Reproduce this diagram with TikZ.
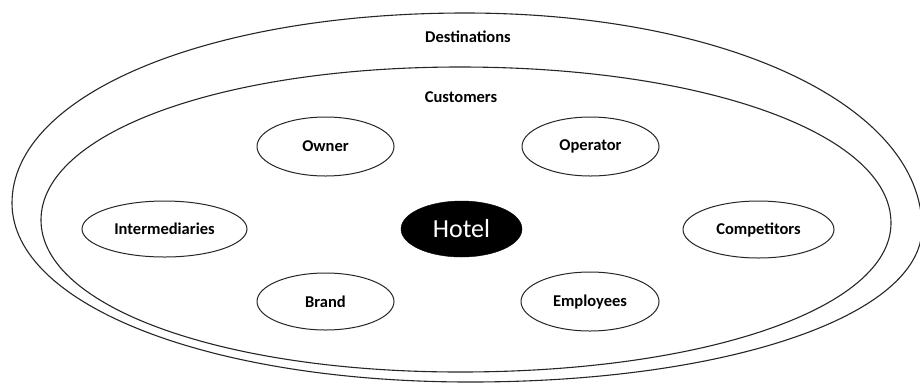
\documentclass[tikz,border=0pt]{standalone}
\usepackage{fontspec}
\setmainfont{Carlito}
\usetikzlibrary{shapes.geometric}
\begin{document}
\begin{tikzpicture}[x=1pt,y=-1pt,
  ring/.style={draw=black!85,line width=1.1pt},
  actor/.style={ellipse,draw=black!85,line width=1pt,inner sep=0pt,fill=white,
    font=\fontsize{16.5}{18}\selectfont\bfseries},
  layerlabel/.style={font=\fontsize{16.5}{18}\selectfont\bfseries,inner sep=0pt},
  core/.style={ellipse,fill=black,draw=black,inner sep=0pt,text=white,
    font=\fontsize{26}{28}\selectfont}]
\useasboundingbox (0,0) rectangle (920,384);
% outer ring (Destinations)
\draw[ring] (12,203) .. controls (12,94.7) and (206.8,13) .. (465,13)
  .. controls (725.5,13) and (922,105.4) .. (922,228)
  .. controls (922,315.8) and (727.6,382) .. (470,382)
  .. controls (208.9,382) and (12,305) .. cycle;
% inner ring (Customers)
\draw[ring] (41,220) .. controls (41,132.8) and (221.2,67) .. (460,67)
  .. controls (705.7,67) and (891,134.1) .. (891,223)
  .. controls (891,307.9) and (705.7,372) .. (460,372)
  .. controls (221.2,372) and (41,306.6) .. cycle;
\node[layerlabel] (dest) at (468,37) {Destinations};
\node[layerlabel] (cust) at (461,97) {Customers};
\node[actor,minimum width=137pt,minimum height=59pt] (owner) at (325.5,146.5) {Owner};
\node[actor,minimum width=137pt,minimum height=59pt] (operator) at (590.5,146.5) {Operator};
\node[actor,minimum width=165pt,minimum height=56pt] (interm) at (164.5,229) {Intermediaries};
\node[core,minimum width=121pt,minimum height=56pt] (hotel) at (461.5,229) {Hotel};
\node[actor,minimum width=151pt,minimum height=57pt] (comp) at (758.5,229.5) {Competitors};
\node[actor,minimum width=137pt,minimum height=57pt] (brand) at (325.5,301.5) {Brand};
\node[actor,minimum width=138pt,minimum height=59pt] (empl) at (590,301.5) {Employees};
\end{tikzpicture}
\end{document}
